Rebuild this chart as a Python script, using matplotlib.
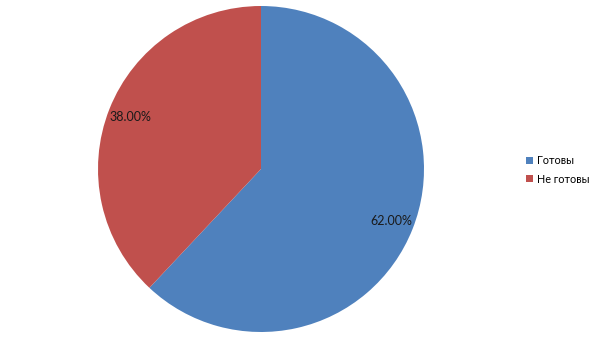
import matplotlib.pyplot as plt

labels = ["Готовы", "Не готовы"]
shares = [62.0, 38.0]
colors = ["#4F81BD", "#C0504D"]

plt.rcParams['font.family'] = ['Lato', 'DejaVu Sans']

fig = plt.figure(figsize=(6.05, 3.4), dpi=100)
ax = fig.add_axes([98 / 605, 8 / 340, 326 / 605, 326 / 340])

wedges, texts, autotexts = ax.pie(
    shares, colors=colors, startangle=90, counterclock=False,
    autopct='%.2f%%', pctdistance=0.86, radius=1.0,
    textprops={'fontsize': 9, 'color': '#1a1a1a'},
)
ax.set_xlim(-1, 1)
ax.set_ylim(-1, 1)
ax.set_aspect('auto')

fig.legend(wedges, labels, loc='center left', bbox_to_anchor=(526 / 605, 1 - 170 / 340),
           frameon=False, fontsize=7.8, handlelength=0.6, handleheight=0.6,
           handletextpad=0.45, labelspacing=0.65, borderpad=0, borderaxespad=0)

fig.savefig("out.png", dpi=100)
